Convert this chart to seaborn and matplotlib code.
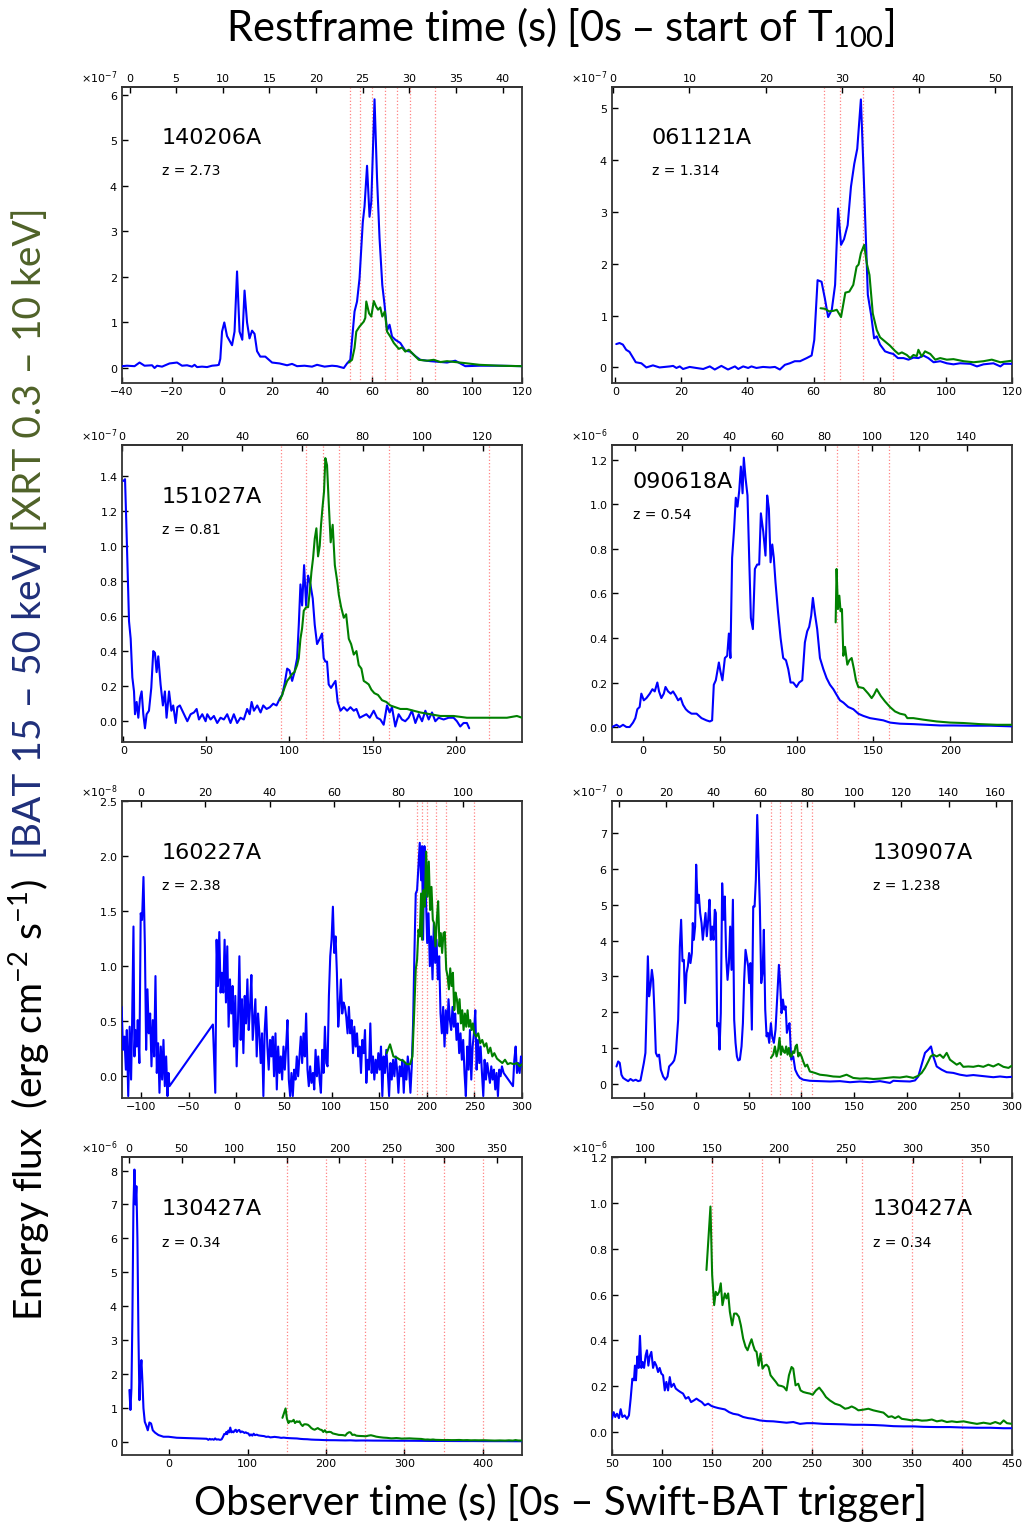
import numpy as np
import pandas as pd
import matplotlib
matplotlib.use("Agg")
import matplotlib.pyplot as plt
import seaborn as sns

# ---------------- data (flux in units of the panel scale) ----------------
# 140206A  (x1e-7)
t_140206A_bat = [-40, -38, -35, -33, -31, -28, -27, -26, -24, -21, -18, -16, -14, -12, -11, -10, -8, -6, -4, -2, -1.3, -0.7, 0, 0.9, 2, 3, 4, 5, 6, 7, 8.1, 9, 10, 11, 12, 13, 14, 15.3, 17.3, 20, 23, 26, 28, 30, 33, 36, 38, 41, 44, 46, 48.7, 50, 51.3, 53, 54, 55, 56.3, 57, 58, 59, 59.7, 61, 62, 63, 64.1, 65, 66, 67, 68, 69.3, 71.3, 73.3, 75.3, 77.3, 79.3, 83.3, 90, 93.3, 95.3, 97.3, 103, 111, 120]
f_140206A_bat = [0.04, 0.05, 0.04, 0.12, 0.05, 0.06, 0.0, 0.05, 0.03, 0.1, 0.12, 0.05, 0.06, 0.03, 0.07, 0.02, 0.03, 0.02, 0.05, 0.06, 0.07, 0.2, 0.8, 1.0, 0.7, 0.6, 0.5, 0.8, 2.12, 0.8, 0.62, 1.7, 1.0, 0.65, 0.82, 0.75, 0.37, 0.25, 0.25, 0.12, 0.1, 0.06, 0.09, 0.04, 0.05, 0.03, 0.07, 0.03, 0.05, 0.04, 0.0, 0.1, 0.18, 1.24, 1.46, 1.97, 3.2, 3.55, 4.44, 3.32, 3.65, 5.9, 4.16, 2.85, 1.82, 1.39, 0.82, 0.95, 0.69, 0.62, 0.55, 0.38, 0.36, 0.26, 0.18, 0.15, 0.12, 0.16, 0.1, 0.04, 0.05, 0.05, 0.04]
t_140206A_xrt = [50.7, 52, 53, 53.7, 55, 56.7, 57.3, 57.7, 58.8, 59.7, 60.7, 61.6, 62.4, 63.3, 64.1, 65.1, 66, 67.3, 68.7, 70.7, 72, 73.3, 74.7, 76.7, 78.7, 82, 84.7, 87.3, 90, 96.7, 103, 111, 120]
f_140206A_xrt = [0.12, 0.18, 0.44, 0.8, 0.91, 1.02, 1.1, 1.46, 1.2, 1.13, 1.47, 1.35, 1.28, 1.33, 1.13, 1.24, 0.8, 0.69, 0.55, 0.42, 0.45, 0.36, 0.4, 0.29, 0.18, 0.16, 0.18, 0.13, 0.15, 0.11, 0.07, 0.05, 0.04]

# 061121A  (x1e-7)
t_061121A_bat = [0.3, 1.3, 2.3, 3.3, 4.3, 6.2, 7.9, 9.4, 10.4, 11.4, 13.4, 16.5, 17.5, 18.5, 19.5, 20.5, 22.5, 24.5, 26.6, 28.6, 30.1, 32.1, 34.1, 36.2, 37.2, 38.7, 40.2, 41.2, 42.7, 44.7, 46.8, 48.3, 49.8, 51.3, 52.8, 54.3, 55.9, 57.9, 59.4, 60.2, 61.2, 62.4, 63.4, 64.4, 65.5, 66.5, 67.4, 68.3, 69.2, 70.3, 71.3, 72.3, 73.2, 74.3, 75.05, 76.4, 77.4, 78.3, 79.1, 80.1, 81.6, 82.9, 84.1, 85.5, 87.2, 88.7, 90.2, 91.7, 93.2, 94.7, 96.3, 98.3, 100.3, 102.3, 104.3, 107.4, 109.4, 111.4, 114.4, 116.5, 117.5, 120]
f_061121A_bat = [0.45, 0.47, 0.44, 0.34, 0.3, 0.1, 0.08, 0.0, 0.02, 0.04, 0.0, 0.02, 0.03, -0.01, 0.02, -0.03, 0.01, -0.01, -0.03, 0.02, -0.04, 0.03, -0.04, 0.02, -0.03, 0.02, -0.01, 0.02, -0.01, 0.01, 0.0, 0.01, -0.04, 0.05, 0.08, 0.12, 0.12, 0.18, 0.23, 0.53, 1.68, 1.65, 1.33, 0.97, 1.11, 1.59, 3.06, 2.36, 2.47, 2.74, 3.48, 3.92, 4.21, 5.16, 3.89, 1.4, 1.01, 0.56, 0.6, 0.44, 0.31, 0.28, 0.26, 0.18, 0.18, 0.15, 0.19, 0.18, 0.23, 0.18, 0.1, 0.12, 0.08, 0.06, 0.08, 0.07, 0.02, 0.06, 0.08, 0.02, 0.07, 0.07]
t_061121A_xrt = [62.1, 63.4, 64.7, 66, 67, 68.3, 69.6, 70.8, 72, 73, 73.6, 74.3, 75.3, 76.1, 76.9, 77.9, 79.1, 80.1, 81.6, 83.1, 84.6, 85.7, 86.7, 88.2, 89.2, 90.2, 91.2, 91.7, 92.7, 93.7, 95.3, 96.8, 98.3, 100.3, 102.3, 105.4, 108.4, 111.4, 113.9, 116.5, 120]
f_061121A_xrt = [1.14, 1.13, 1.08, 1.09, 1.11, 0.97, 1.44, 1.46, 1.59, 1.94, 1.98, 2.2, 2.36, 2.0, 1.78, 1.04, 0.72, 0.58, 0.5, 0.42, 0.32, 0.26, 0.29, 0.24, 0.18, 0.24, 0.22, 0.34, 0.21, 0.31, 0.26, 0.15, 0.18, 0.15, 0.16, 0.12, 0.1, 0.12, 0.15, 0.1, 0.13]

# 151027A  (x1e-7)
t_151027A_bat = [0, 1, 1.8, 3.4, 4.4, 5.4, 6.4, 7, 8, 9, 10, 11, 12, 13, 14, 15.4, 16.8, 18, 19, 20, 21, 22.4, 23.8, 25, 26, 27.5, 28.9, 30, 31.5, 32.5, 34, 35.5, 37, 38.5, 40.5, 42.5, 44.1, 45.5, 47.5, 49.5, 50.5, 52.5, 54.5, 56.5, 58.5, 60.5, 62.5, 64.5, 66.5, 68.5, 70.5, 72.5, 74.5, 76, 77.2, 78.6, 80.6, 82.6, 84.2, 86.2, 88.2, 90.2, 92.2, 94.2, 95.6, 97, 98.6, 100, 101.6, 103, 104.6, 105.6, 106.6, 107.6, 108.8, 110, 111.2, 112.6, 114, 115.2, 116.6, 118.2, 119.6, 120.6, 121.6, 122.6, 123.6, 125, 126.3, 127.7, 129, 130.7, 132.7, 134.7, 136.7, 138.7, 140.3, 142.3, 144.3, 146.3, 148.3, 150.7, 152.7, 154.7, 156.7, 158.7, 160.3, 161.7, 163.7, 165.7, 167.7, 169.7, 171.7, 173.7, 175.8, 177.8, 179.8, 181.8, 183.8, 185.8, 187.8, 189.8, 192.8, 195.8, 198.8, 200.8, 202.8, 204.8, 206.8, 208.2]
f_151027A_bat = [1.37, 1.38, 1.12, 0.57, 0.47, 0.25, 0.17, 0.04, 0.11, 0.02, 0.13, 0.17, 0.04, -0.04, 0.04, 0.06, 0.19, 0.4, 0.39, 0.28, 0.37, 0.21, 0.09, 0.17, 0.02, 0.17, 0.06, 0.09, -0.01, 0.08, 0.09, 0.06, 0.03, 0.0, 0.04, 0.05, 0.07, 0.01, 0.04, 0.0, 0.04, 0.01, 0.03, -0.01, 0.02, 0.01, 0.04, -0.01, 0.04, -0.01, 0.02, 0.01, 0.07, 0.04, 0.11, 0.06, 0.09, 0.05, 0.09, 0.07, 0.08, 0.1, 0.09, 0.13, 0.15, 0.21, 0.3, 0.29, 0.23, 0.28, 0.36, 0.55, 0.78, 0.66, 0.89, 0.66, 0.83, 0.78, 0.7, 0.55, 0.44, 0.47, 0.5, 0.36, 0.34, 0.34, 0.21, 0.19, 0.21, 0.23, 0.11, 0.06, 0.08, 0.06, 0.08, 0.06, 0.07, 0.02, 0.03, 0.04, 0.02, 0.06, 0.02, 0.01, -0.02, 0.09, 0.05, 0.08, -0.03, 0.04, 0.01, 0.0, 0.02, 0.06, -0.01, 0.04, 0.0, 0.06, 0.01, 0.05, 0.0, 0.02, 0.01, 0.02, 0.02, 0.0, -0.03, -0.01, -0.01, -0.04]
t_151027A_xrt = [94.2, 95.6, 97, 98.6, 100.2, 101.6, 103, 104.6, 105.6, 106.6, 107.6, 108.6, 110, 111.2, 112.2, 113.2, 114.2, 115.2, 116.2, 117.2, 118.2, 119, 119.8, 120.8, 121.6, 122.6, 123.6, 124.8, 126, 127.3, 128.7, 129.7, 131.1, 132.7, 134.1, 135.7, 137.1, 138.7, 140.3, 141.7, 143.3, 144.7, 146.3, 147.7, 149.3, 151.1, 153.3, 155.7, 158.3, 160.7, 163.7, 166.7, 170.7, 174.7, 178.8, 184.8, 190.8, 198.8, 206.8, 214.8, 222.8, 230.9, 236.9, 240]
f_151027A_xrt = [0.12, 0.15, 0.19, 0.23, 0.25, 0.27, 0.28, 0.32, 0.36, 0.47, 0.53, 0.63, 0.65, 0.65, 0.74, 0.85, 0.93, 1.04, 1.1, 0.94, 1.0, 1.12, 1.21, 1.31, 1.5, 1.46, 1.25, 1.02, 1.12, 0.89, 0.8, 0.72, 0.65, 0.59, 0.61, 0.47, 0.44, 0.38, 0.4, 0.32, 0.3, 0.23, 0.22, 0.21, 0.18, 0.16, 0.15, 0.12, 0.11, 0.09, 0.08, 0.07, 0.07, 0.06, 0.05, 0.04, 0.03, 0.03, 0.02, 0.02, 0.02, 0.02, 0.03, 0.02]

# 090618A  (x1e-6)
t_090618A_bat = [-20, -17, -15, -12.8, -10.6, -8.5, -6.3, -4.8, -3.5, -2, -0.9, 0.7, 2.4, 4.6, 6.3, 7.8, 9.5, 10.6, 12.1, 13.7, 14.8, 16.5, 18.2, 19.7, 21.5, 23, 24.7, 26.2, 28, 29.5, 31.7, 35, 38.2, 41.4, 43.6, 45.1, 46.2, 47.5, 49.5, 50.5, 51.8, 53.4, 54.9, 56, 57, 58.1, 59.4, 60.5, 61.6, 62.7, 63.8, 64.9, 65.7, 66.8, 68.1, 69.2, 70.3, 71.6, 72.9, 74.4, 75.7, 76.8, 78.3, 79.8, 80.9, 82, 83.1, 84.2, 85.2, 86.3, 87.9, 89.6, 91.3, 93.1, 94.6, 96.1, 97.8, 100, 101.7, 103.7, 105.4, 106.9, 108.2, 109.5, 110.6, 111.9, 113.4, 115.2, 117.4, 119.5, 121.7, 123.9, 126, 128.2, 130.4, 133.6, 136.9, 140.1, 143.4, 147.7, 152.1, 156.4, 160.7, 167.2, 175.9, 184.6, 193.3, 202, 212.8, 225.8, 240]
f_090618A_bat = [0.0, 0.01, 0.0, 0.01, 0.0, 0.0, 0.02, 0.04, 0.08, 0.09, 0.15, 0.12, 0.13, 0.15, 0.17, 0.16, 0.2, 0.16, 0.13, 0.15, 0.18, 0.16, 0.15, 0.16, 0.14, 0.12, 0.13, 0.1, 0.08, 0.07, 0.06, 0.06, 0.04, 0.03, 0.025, 0.03, 0.19, 0.21, 0.29, 0.25, 0.21, 0.31, 0.32, 0.42, 0.31, 0.76, 0.89, 1.03, 0.99, 1.06, 1.17, 1.05, 1.21, 1.12, 1.04, 0.76, 0.49, 0.44, 0.71, 0.73, 0.73, 0.96, 0.88, 0.77, 1.04, 0.98, 0.74, 0.82, 0.76, 0.65, 0.52, 0.4, 0.31, 0.3, 0.26, 0.2, 0.2, 0.18, 0.2, 0.21, 0.38, 0.43, 0.45, 0.5, 0.58, 0.51, 0.44, 0.31, 0.26, 0.22, 0.19, 0.17, 0.145, 0.12, 0.11, 0.09, 0.08, 0.06, 0.05, 0.04, 0.035, 0.03, 0.02, 0.015, 0.013, 0.01, 0.007, 0.007, 0.006, 0.006, 0.003]
t_090618A_xrt = [125.4, 126, 126.9, 127.8, 128.6, 129.5, 130.4, 131.5, 133, 134.3, 135.8, 137.3, 138.6, 140.1, 143.4, 146.6, 148.8, 150.3, 152.1, 154.7, 157.5, 160.7, 164, 167.2, 170.5, 172, 175.9, 182.4, 191.1, 199.8, 208.5, 219.3, 230.2, 240]
f_090618A_xrt = [0.47, 0.71, 0.53, 0.59, 0.52, 0.53, 0.32, 0.36, 0.28, 0.3, 0.31, 0.26, 0.21, 0.18, 0.175, 0.15, 0.13, 0.145, 0.17, 0.14, 0.115, 0.09, 0.07, 0.06, 0.055, 0.04, 0.04, 0.033, 0.025, 0.02, 0.018, 0.013, 0.01, 0.01]

# 160227A  (x1e-8)
t_160227A_bat = [-120.4, -119, -117.5, -116, -115, -113.5, -112, -110.5, -109.5, -108, -107, -106, -104.6, -103.5, -101.8, -100.4, -99, -97.5, -96, -94.7, -93.3, -91.9, -90.5, -89.1, -87.7, -86.3, -84.9, -83.5, -82.1, -80.7, -79.3, -77.9, -76.5, -75.1, -73.7, -72.3, -71.2, -70.2, -24.6, -22.1, -20.7, -19.3, -17.9, -16.5, -15.1, -13.7, -12.3, -10.9, -9.5, -8.1, -6.7, -5.3, -3.9, -2.5, -1.1, 0.35, 1.75, 3.2, 4.6, 6, 7.4, 8.8, 10.2, 11.6, 13, 14.4, 15.8, 17.2, 18.6, 20, 21.4, 22.8, 24.2, 25.6, 27, 28.4, 29.8, 31.2, 32.6, 34, 35.4, 36.8, 38.2, 39.6, 41.1, 42.5, 43.9, 45.3, 46.7, 48.1, 49.5, 50.9, 52.3, 53.7, 55.1, 56.5, 57.9, 59.3, 60.7, 62.1, 63.5, 64.9, 66.3, 67.7, 69.1, 70.5, 71.9, 73.3, 74.7, 76.1, 77.5, 78.9, 80.4, 81.8, 83.2, 84.6, 86, 87.4, 88.8, 90.2, 91.6, 93, 94.4, 95.8, 97.2, 98.6, 100, 101.4, 102.8, 104.2, 105.6, 107, 108.4, 109.8, 111.2, 112.6, 114, 115.4, 116.8, 118.2, 119.6, 121, 122.5, 123.9, 125.3, 126.7, 128.1, 129.5, 130.9, 132.3, 133.7, 135.1, 136.5, 137.9, 139.3, 140.7, 142.1, 143.5, 144.9, 146.3, 147.7, 149.1, 150.5, 151.9, 153.3, 154.7, 156.1, 157.5, 158.9, 160.4, 161.8, 163.2, 164.6, 166, 167.4, 168.8, 170.2, 171.6, 173, 174.4, 175.8, 177.2, 178.6, 180, 181.4, 182.8, 184.2, 185.6, 187, 188.4, 189.8, 191.2, 192.6, 194, 195, 196.1, 197.5, 198.9, 200.4, 201.8, 203.2, 204.6, 206, 207.4, 208.8, 210.2, 211.6, 213, 214.4, 215.8, 217.2, 218.6, 220, 221.4, 222.8, 224.2, 225.6, 227, 228.4, 229.8, 231.2, 232.6, 234, 235.4, 236.8, 238.2, 239.6, 241, 242.5, 243.9, 245.3, 246.7, 248.1, 249.5, 250.9, 252.3, 253.7, 255.1, 256.5, 257.9, 259.3, 260.7, 262.1, 263.5, 264.9, 266.3, 267.7, 269.1, 270.5, 271.9, 273.3, 274.7, 276.1, 277.5, 278.9, 280.7, 290.5, 291.9, 293.3, 294.7, 296.1, 297.5, 298.9, 300]
f_160227A_bat = [0.63, 0.24, 0.36, 0.06, 0.42, -0.18, 0.45, -0.03, 0.45, 1.36, 0.18, 0.42, 0.27, 0.51, 0.12, 1.48, 1.42, 1.81, 1.18, 0.24, 0.79, 0.39, 0.57, 0.09, 0.51, 0.18, 0.91, 0.03, 0.3, -0.15, 0.27, -0.03, 0.33, -0.09, 0.18, -0.18, 0.03, -0.09, 0.47, -0.15, 1.24, 0.82, 1.31, 0.76, 0.94, 0.76, 1.24, 0.67, 1.18, 0.45, 0.88, 0.57, 0.82, 0.27, 0.73, 0.09, 0.51, 1.09, 0.33, 0.7, 0.21, 0.73, 0.48, 0.88, 0.42, 0.63, 0.92, 0.33, 0.51, 0.7, 0.18, 0.57, 0.39, 0.12, 0.39, -0.18, 0.42, 0.63, 0.27, 0.06, 0.33, 0.18, 0.36, 0.0, 0.39, -0.12, 0.27, 0.03, 0.18, -0.03, 0.27, 0.06, 0.27, 0.51, -0.03, -0.18, 0.03, -0.18, 0.06, -0.03, 0.18, 0.0, 0.18, 0.36, 0.12, 0.39, 0.18, 0.57, 0.06, -0.09, 0.09, -0.06, 0.03, -0.12, 0.24, 0.0, 0.18, -0.03, -0.15, 0.24, 0.03, 0.45, 0.12, 0.09, 0.73, 1.09, 1.24, 1.54, 1.12, 1.27, 0.94, 0.45, 0.63, 0.88, 0.57, 0.67, 0.63, 0.54, 0.39, 0.63, 0.39, 0.51, 0.21, 0.45, 0.27, 0.39, 0.18, 0.27, 0.03, 0.33, 0.21, 0.42, -0.06, 0.15, 0.06, 0.48, 0.03, 0.18, -0.03, 0.15, 0.03, 0.21, 0.06, 0.27, -0.18, 0.18, 0.03, 0.24, 0.06, -0.18, 0.12, -0.03, 0.15, 0.0, 0.18, 0.06, -0.15, 0.09, 0.0, 0.15, -0.15, 0.12, -0.03, 0.18, 0.06, -0.15, 0.09, 0.48, 1.12, 1.66, 1.69, 1.9, 2.12, 1.78, 2.09, 1.24, 2.09, 1.69, 1.21, 1.48, 1.0, 1.27, 0.88, 1.39, 1.03, 1.24, 0.88, 1.09, 0.57, 0.39, 0.63, 0.27, 0.6, 0.39, 0.7, 0.51, 0.42, 0.63, 0.45, 0.57, 0.33, 0.48, 0.21, 0.39, 0.15, 0.33, 0.03, -0.18, 0.27, 0.06, 0.42, -0.03, 0.27, 0.39, 0.6, 0.06, 0.33, 0.12, 0.27, 0.03, -0.18, 0.15, -0.03, 0.12, 0.03, -0.06, 0.09, -0.03, 0.06, -0.12, 0.03, -0.18, 0.06, 0.0, 0.09, 0.03, -0.09, 0.15, 0.27, 0.03, 0.12, 0.03, 0.18, 0.09]
t_160227A_xrt = [157.9, 161.4, 164.9, 168.4, 171.9, 175.4, 178.9, 182.5, 184.9, 186.7, 188.4, 189.8, 191.2, 192.6, 194, 195, 196.5, 197.9, 199.3, 200.7, 202.1, 203.5, 204.9, 206.3, 207.7, 209.1, 210.5, 211.9, 213.3, 214.7, 216.1, 217.5, 218.9, 220.4, 221.8, 223.2, 224.6, 226, 227.4, 228.8, 230.2, 231.6, 233, 234.4, 235.8, 237.2, 238.6, 240, 241.4, 242.8, 244.2, 245.6, 247, 248.4, 249.8, 251.9, 254, 256.1, 258.2, 260.4, 262.5, 264.6, 266.7, 268.8, 270.9, 273.7, 276.5, 279.3, 282.1, 284.9, 287.7, 291.2, 294.7, 297.5, 300]
f_160227A_xrt = [0.21, 0.29, 0.18, 0.17, 0.15, 0.14, 0.11, 0.11, 0.18, 0.57, 0.97, 1.06, 1.33, 1.27, 1.66, 1.24, 1.69, 1.54, 2.04, 1.63, 1.95, 1.51, 1.72, 1.42, 1.39, 1.18, 1.42, 1.59, 1.18, 1.3, 1.12, 1.3, 1.31, 0.97, 0.91, 0.79, 0.98, 0.82, 0.94, 0.6, 0.76, 0.7, 0.57, 0.7, 0.48, 0.6, 0.42, 0.57, 0.45, 0.6, 0.45, 0.51, 0.42, 0.48, 0.39, 0.36, 0.39, 0.3, 0.33, 0.27, 0.3, 0.21, 0.26, 0.18, 0.21, 0.16, 0.14, 0.12, 0.15, 0.11, 0.12, 0.11, 0.12, 0.09, 0.11]

# 130907A  (x1e-7)
t_130907A_bat = [-75.7, -74.1, -72.6, -71, -69.4, -66.9, -64.6, -62.4, -59.9, -57.4, -55.1, -52.9, -51, -49.7, -48.2, -47.2, -45.9, -44.7, -43.4, -42.1, -40.9, -39.6, -38.3, -36.8, -35.2, -33.6, -31.4, -29.2, -27.2, -25.7, -24.1, -22.5, -20.9, -19.3, -17.1, -15.5, -14.3, -13, -11.7, -10.5, -9.2, -7.9, -6.7, -5.4, -4.1, -3.2, -2.2, -1, 0, 1.3, 2.5, 3.8, 5.1, 6.3, 7.6, 8.9, 10.1, 11.4, 12.7, 13.9, 15.2, 16.5, 17.7, 18.7, 20, 21.2, 22.2, 23.4, 24.7, 26, 27.2, 28.5, 29.8, 31.1, 32.3, 33.6, 34.9, 36.1, 37.4, 38.7, 39.9, 41.5, 43.1, 44.4, 45.6, 46.9, 48.2, 49.4, 50.4, 51.6, 52.9, 54.2, 55.5, 56.7, 58, 59.3, 60.5, 61.8, 63.1, 64.3, 65.6, 66.9, 68.1, 69.4, 71, 72.2, 73.8, 75.4, 77, 78.6, 79.8, 81.1, 82.4, 83.7, 85, 86.2, 87.5, 88.7, 90.3, 92.2, 94.1, 96.3, 98.5, 101.7, 108, 117.6, 127.1, 136.6, 146.1, 155.6, 165.1, 174.6, 184.1, 187.3, 193.6, 203.1, 207.9, 211, 214.2, 217.4, 220.5, 223.1, 225.3, 228.5, 233.2, 238, 244.3, 250.6, 257, 263.3, 269.6, 276, 282.3, 288.7, 295, 299.7]
f_130907A_bat = [0.48, 0.62, 0.58, 0.25, 0.16, 0.11, 0.07, 0.13, 0.08, 0.11, 0.07, 0.09, 0.39, 0.58, 0.86, 1.97, 3.56, 2.44, 2.72, 3.18, 2.9, 1.97, 0.86, 0.76, 0.81, 0.39, 0.2, 0.11, 0.2, 0.48, 0.53, 0.58, 0.65, 0.86, 1.79, 3.84, 4.58, 3.42, 3.46, 2.25, 3.09, 3.28, 3.65, 3.37, 3.65, 4.49, 4.02, 4.39, 6.12, 5.05, 5.28, 4.77, 4.49, 4.02, 4.39, 4.77, 4.12, 4.58, 5.14, 4.02, 4.39, 4.02, 4.86, 4.77, 1.6, 1.69, 0.95, 1.97, 5.6, 4.58, 5.23, 3.56, 2.9, 3.37, 4.39, 3.18, 5.14, 1.79, 1.14, 0.76, 0.65, 0.67, 1.04, 1.69, 2.9, 3.74, 3.51, 3.28, 2.81, 3.37, 1.51, 4.95, 4.95, 5.7, 7.51, 6.16, 4.95, 2.81, 3.09, 4.3, 2.07, 1.32, 1.42, 1.14, 1.69, 1.32, 1.14, 1.51, 2.44, 3.32, 2.81, 1.97, 2.35, 2.07, 2.16, 1.42, 1.6, 1.69, 0.67, 0.76, 0.39, 0.25, 0.16, 0.11, 0.08, 0.07, 0.06, 0.07, 0.04, 0.06, 0.04, 0.07, 0.02, 0.08, 0.07, 0.06, 0.09, 0.2, 0.53, 0.86, 0.95, 1.04, 0.76, 0.48, 0.39, 0.32, 0.3, 0.25, 0.22, 0.24, 0.22, 0.2, 0.18, 0.2, 0.18, 0.19]
t_130907A_xrt = [71, 73.2, 74.8, 76.4, 77.9, 79.2, 80.5, 81.7, 83, 84.3, 85.5, 86.8, 88.1, 89.4, 90.6, 91.9, 93.2, 94.4, 95.7, 97, 98.5, 100.1, 101.7, 103.6, 105.5, 108, 112.8, 117.6, 123.9, 130.2, 136.6, 142.9, 149.2, 155.6, 161.9, 168.3, 174.6, 180.9, 187.3, 193.6, 199.9, 206.2, 211, 214.2, 217.4, 220.5, 222.8, 225.3, 228.5, 231.6, 234.8, 238, 241.1, 244.3, 247.5, 250.6, 253.8, 258.6, 263.3, 268.1, 272.8, 277.6, 282.3, 287.1, 291.9, 296.7, 299.7]
f_130907A_xrt = [0.72, 0.81, 1.04, 0.76, 0.95, 1.28, 0.81, 1.04, 0.9, 0.86, 1.04, 0.81, 1.0, 0.76, 0.76, 0.9, 0.86, 1.04, 1.09, 0.76, 0.86, 0.76, 0.62, 0.48, 0.53, 0.34, 0.3, 0.25, 0.23, 0.2, 0.19, 0.25, 0.16, 0.14, 0.15, 0.13, 0.14, 0.16, 0.18, 0.17, 0.2, 0.16, 0.22, 0.3, 0.44, 0.62, 0.76, 0.81, 0.76, 0.81, 0.72, 0.86, 0.67, 0.6, 0.53, 0.58, 0.47, 0.48, 0.47, 0.5, 0.47, 0.53, 0.48, 0.55, 0.47, 0.44, 0.5]

# 130427A  (x1e-6)
t_130427A_bat = [-50.6, -49.3, -48, -46.8, -45.5, -44.2, -42.9, -41.7, -40.4, -39.1, -37.8, -36.6, -35.3, -34, -32.7, -31, -29.3, -27.2, -25.1, -23, -20.8, -17.9, -13.6, -7.2, -0.9, 9.8, 22.5, 35.3, 48, 50, 51.7, 53.3, 55, 57, 58.7, 60.4, 62.7, 65, 67, 68.7, 70.4, 72, 73, 74, 75.4, 76.7, 78, 79.4, 80.7, 82.1, 83.7, 85, 86.4, 87.7, 89.4, 91.1, 92.7, 94.4, 96.1, 97.7, 99.4, 101.1, 102.8, 104.4, 106.1, 107.8, 109.4, 111.8, 113.8, 116.1, 118.4, 121.1, 123.8, 126.5, 129.1, 131.8, 134.5, 137.1, 139.8, 142.8, 146.2, 149.5, 152.8, 156.2, 159.5, 162.9, 167.2, 171.2, 176.2, 181.2, 186.2, 191.2, 197.9, 204.6, 211.3, 217.9, 224.6, 231.3, 238, 244.7, 251.3, 261.4, 271.4, 281.4, 291.4, 301.4, 311.4, 321.5, 331.5, 341.5, 351.5, 361.5, 374.9, 388.2, 401.6, 414.9, 428.3, 441.7, 450]
f_130427A_bat = [1.53, 0.94, 1.58, 3.65, 6.95, 8.03, 7.0, 7.54, 6.0, 3.15, 1.23, 2.07, 2.41, 1.77, 0.99, 0.59, 0.49, 0.34, 0.57, 0.54, 0.34, 0.27, 0.2, 0.15, 0.15, 0.12, 0.11, 0.1, 0.09, 0.058, 0.087, 0.066, 0.08, 0.061, 0.1, 0.066, 0.073, 0.058, 0.073, 0.146, 0.233, 0.226, 0.29, 0.226, 0.33, 0.28, 0.42, 0.28, 0.306, 0.28, 0.335, 0.357, 0.29, 0.33, 0.35, 0.28, 0.306, 0.29, 0.262, 0.28, 0.255, 0.248, 0.182, 0.219, 0.182, 0.24, 0.197, 0.211, 0.19, 0.182, 0.175, 0.168, 0.146, 0.153, 0.131, 0.138, 0.146, 0.138, 0.131, 0.117, 0.124, 0.114, 0.109, 0.105, 0.102, 0.099, 0.087, 0.08, 0.076, 0.066, 0.061, 0.058, 0.051, 0.048, 0.047, 0.044, 0.041, 0.044, 0.036, 0.039, 0.039, 0.036, 0.035, 0.034, 0.032, 0.032, 0.031, 0.029, 0.026, 0.025, 0.025, 0.023, 0.022, 0.022, 0.02, 0.019, 0.019, 0.017, 0.017]
t_130427A_xrt = [144.5, 148.5, 150.2, 152.2, 153.8, 155.5, 157.2, 158.8, 160.5, 162.9, 164.5, 166.2, 167.9, 170.2, 172.2, 174.5, 176.9, 178.9, 181.2, 183.6, 185.6, 187.9, 189.6, 191.2, 192.9, 194.6, 196.6, 198.6, 200.6, 202.6, 204.6, 206.6, 208.6, 211.3, 213.9, 216.3, 219.6, 221.9, 224.6, 227, 229.6, 231.3, 233.6, 236.3, 238.6, 241.3, 244.7, 248, 250.7, 254, 257.3, 260.7, 264, 268, 273, 278, 283.1, 286.4, 289.7, 293.1, 296.4, 301.4, 306.4, 311.4, 316.4, 321.5, 326.5, 329.8, 333.1, 336.5, 339.8, 344.8, 349.8, 354.8, 359.9, 364.9, 369.9, 374.9, 379.9, 384.9, 389.9, 394.9, 401.6, 408.3, 415, 421.6, 428.3, 433.3, 438.3, 441.7, 445, 450]
f_130427A_xrt = [0.707, 0.984, 0.685, 0.554, 0.612, 0.598, 0.612, 0.649, 0.554, 0.605, 0.583, 0.605, 0.525, 0.466, 0.517, 0.517, 0.503, 0.466, 0.408, 0.372, 0.357, 0.386, 0.405, 0.379, 0.357, 0.35, 0.29, 0.343, 0.277, 0.29, 0.294, 0.284, 0.248, 0.233, 0.219, 0.204, 0.201, 0.197, 0.182, 0.248, 0.284, 0.277, 0.204, 0.211, 0.182, 0.175, 0.171, 0.168, 0.163, 0.182, 0.194, 0.175, 0.153, 0.138, 0.124, 0.117, 0.102, 0.105, 0.112, 0.105, 0.095, 0.098, 0.102, 0.095, 0.09, 0.085, 0.066, 0.069, 0.061, 0.069, 0.058, 0.055, 0.051, 0.054, 0.05, 0.051, 0.055, 0.047, 0.051, 0.044, 0.047, 0.044, 0.047, 0.041, 0.036, 0.041, 0.036, 0.044, 0.036, 0.051, 0.039, 0.036]

# ---------------- panel configuration (layout / styling) ----------------
panels = [
    dict(name="140206A", z=2.73, t0=-37.0, scale=1e-7, bat=(t_140206A_bat, f_140206A_bat), xrt=(t_140206A_xrt, f_140206A_xrt),
         xlim=(-40, 120), ylim=(-0.33, 6.17), xt=np.arange(-40, 121, 20), tt=np.arange(0, 41, 5), yt=np.arange(0, 7, 1),
         vl=[51, 55, 60, 65, 70, 75, 85], pos=(0.10, 0.828, 0.716), rect=(0.1193, 0.7490, 0.3910, 0.1940)),
    dict(name="061121A", z=1.314, t0=-0.7, scale=1e-7, bat=(t_061121A_bat, f_061121A_bat), xrt=(t_061121A_xrt, f_061121A_xrt),
         xlim=(-1, 120), ylim=(-0.30, 5.40), xt=np.arange(0, 121, 20), tt=np.arange(0, 51, 10), yt=np.arange(0, 6, 1),
         vl=[63, 68, 75, 84], pos=(0.10, 0.828, 0.716), rect=(0.5982, 0.7490, 0.3910, 0.1940)),
    dict(name="151027A", z=0.81, t0=-0.8, scale=1e-7, bat=(t_151027A_bat, f_151027A_bat), xrt=(t_151027A_xrt, f_151027A_xrt),
         xlim=(-0.8, 240), ylim=(-0.118, 1.575), xt=np.arange(0, 201, 50), tt=np.arange(0, 121, 20), yt=np.arange(0, 1.41, 0.2),
         vl=[95, 110, 120, 130, 160, 220], pos=(0.10, 0.826, 0.714), rect=(0.1193, 0.5138, 0.3910, 0.1946)),
    dict(name="090618A", z=0.54, t0=-5.0, scale=1e-6, bat=(t_090618A_bat, f_090618A_bat), xrt=(t_090618A_xrt, f_090618A_xrt),
         xlim=(-20, 240), ylim=(-0.067, 1.267), xt=np.arange(0, 201, 50), tt=np.arange(0, 141, 20), yt=np.arange(0, 1.21, 0.2),
         vl=[126, 140, 160], pos=(0.052, 0.876, 0.764), rect=(0.5982, 0.5138, 0.3910, 0.1946)),
    dict(name="160227A", z=2.38, t0=-100.0, scale=1e-8, bat=(t_160227A_bat, f_160227A_bat), xrt=(t_160227A_xrt, f_160227A_xrt),
         xlim=(-120, 300), ylim=(-0.197, 2.5), xt=np.arange(-100, 301, 50), tt=np.arange(0, 101, 20), yt=np.arange(0, 2.51, 0.5),
         vl=[190, 195, 200, 210, 220, 250], pos=(0.10, 0.826, 0.714), rect=(0.1193, 0.2805, 0.3910, 0.1946)),
    dict(name="130907A", z=1.238, t0=-73.5, scale=1e-7, bat=(t_130907A_bat, f_130907A_bat), xrt=(t_130907A_xrt, f_130907A_xrt),
         xlim=(-80, 300), ylim=(-0.40, 7.90), xt=np.arange(-50, 301, 50), tt=np.arange(0, 161, 20), yt=np.arange(0, 8, 1),
         vl=[71, 80, 90, 100, 110], pos=(0.652, 0.826, 0.714), rect=(0.5982, 0.2805, 0.3910, 0.1946)),
    dict(name="130427A", z=0.34, t0=-51.0, scale=1e-6, bat=(t_130427A_bat, f_130427A_bat), xrt=(t_130427A_xrt, f_130427A_xrt),
         xlim=(-60, 450), ylim=(-0.39, 8.40), xt=np.arange(0, 401, 100), tt=np.arange(0, 351, 50), yt=np.arange(0, 9, 1),
         vl=[150, 200, 250, 300, 350, 400], pos=(0.10, 0.825, 0.713), rect=(0.1193, 0.0465, 0.3910, 0.1953)),
    dict(name="130427A", z=0.34, t0=-51.0, scale=1e-6, bat=(t_130427A_bat, f_130427A_bat), xrt=(t_130427A_xrt, f_130427A_xrt),
         xlim=(50, 450), ylim=(-0.10, 1.20), xt=np.arange(50, 451, 50), tt=np.arange(100, 351, 50), yt=np.arange(0, 1.21, 0.2),
         vl=[150, 200, 250, 300, 350, 400], pos=(0.652, 0.825, 0.713), rect=(0.5982, 0.0465, 0.3910, 0.1953)),
]

# ---------------- drawing ----------------
sns.set_style("white")
plt.rcParams["font.family"] = ["DejaVu Sans"]
plt.rcParams["mathtext.default"] = "regular"
plt.rcParams["text.color"] = "black"
plt.rcParams["xtick.color"] = "black"
plt.rcParams["ytick.color"] = "black"

fig = plt.figure(figsize=(10.23, 15.26), dpi=100)

BLUE = "#0000ff"
GREEN = "#008000"

for p in panels:
    ax = fig.add_axes(p["rect"])
    s = p["scale"]
    tb, fb = p["bat"]
    tx, fx = p["xrt"]
    for v in p["vl"]:
        ax.axvline(v, color="#ff3030", ls=":", lw=0.9, alpha=0.6, zorder=1)
    sns.lineplot(x=np.array(tb), y=np.array(fb) * s, ax=ax, color=BLUE, lw=1.5,
                 estimator=None, sort=False, zorder=3)
    sns.lineplot(x=np.array(tx), y=np.array(fx) * s, ax=ax, color=GREEN, lw=1.5,
                 estimator=None, sort=False, zorder=4)
    ax.set_xlim(*p["xlim"])
    ax.set_ylim(p["ylim"][0] * s, p["ylim"][1] * s)
    ax.set_xticks(p["xt"])
    ax.set_yticks(np.asarray(p["yt"]) * s)
    ax.ticklabel_format(axis="y", style="sci", scilimits=(0, 0), useMathText=True)
    ax.set_xlabel("")
    ax.set_ylabel("")
    ax.tick_params(direction="in", length=4, width=1, labelsize=8, colors="black",
                   bottom=True, left=True, top=False, right=False, pad=3)
    off = ax.yaxis.get_offset_text()
    off.set_fontsize(8)
    off.set_horizontalalignment("right")
    off.set_x(-0.012)
    for sp in ax.spines.values():
        sp.set_color("#333333")
        sp.set_linewidth(1.3)

    z, t0 = p["z"], p["t0"]
    sec = ax.secondary_xaxis("top", functions=(lambda x, z=z, t0=t0: (x - t0) / (1 + z),
                                                 lambda r, z=z, t0=t0: r * (1 + z) + t0))
    sec.set_xticks(p["tt"])
    sec.tick_params(direction="in", length=4, width=1, labelsize=8, colors="black", pad=2)
    sec.spines["top"].set_color("#333333")
    sec.spines["top"].set_linewidth(1.3)

    px, py1, py2 = p["pos"]
    ax.text(px, py1, p["name"], transform=ax.transAxes, fontsize=16, va="center", ha="left")
    ax.text(px, py2, f"z = {p['z']}", transform=ax.transAxes, fontsize=10, va="center", ha="left")

TITLE_FONT = ["Lato", "DejaVu Sans"]
fig.text(0.548, 0.982, "Restframe time (s) [0s – start of T$_{100}$]", ha="center", va="center",
         fontsize=30, family=TITLE_FONT)
fig.text(0.548, 0.015, "Observer time (s) [0s – Swift-BAT trigger]", ha="center", va="center",
         fontsize=29, family=TITLE_FONT)
fig.text(0.029, 0.279, "Energy flux  (erg cm$^{-2}$ s$^{-1}$)", rotation=90, ha="center", va="center",
         fontsize=28, family=TITLE_FONT, color="black")
fig.text(0.029, 0.541, "[BAT 15 – 50 keV]", rotation=90, ha="center", va="center",
         fontsize=28, family=TITLE_FONT, color="#1f2f7a")
fig.text(0.029, 0.758, "[XRT 0.3 – 10 keV]", rotation=90, ha="center", va="center",
         fontsize=28, family=TITLE_FONT, color="#4f6228")

fig.savefig("out.png", dpi=100)
